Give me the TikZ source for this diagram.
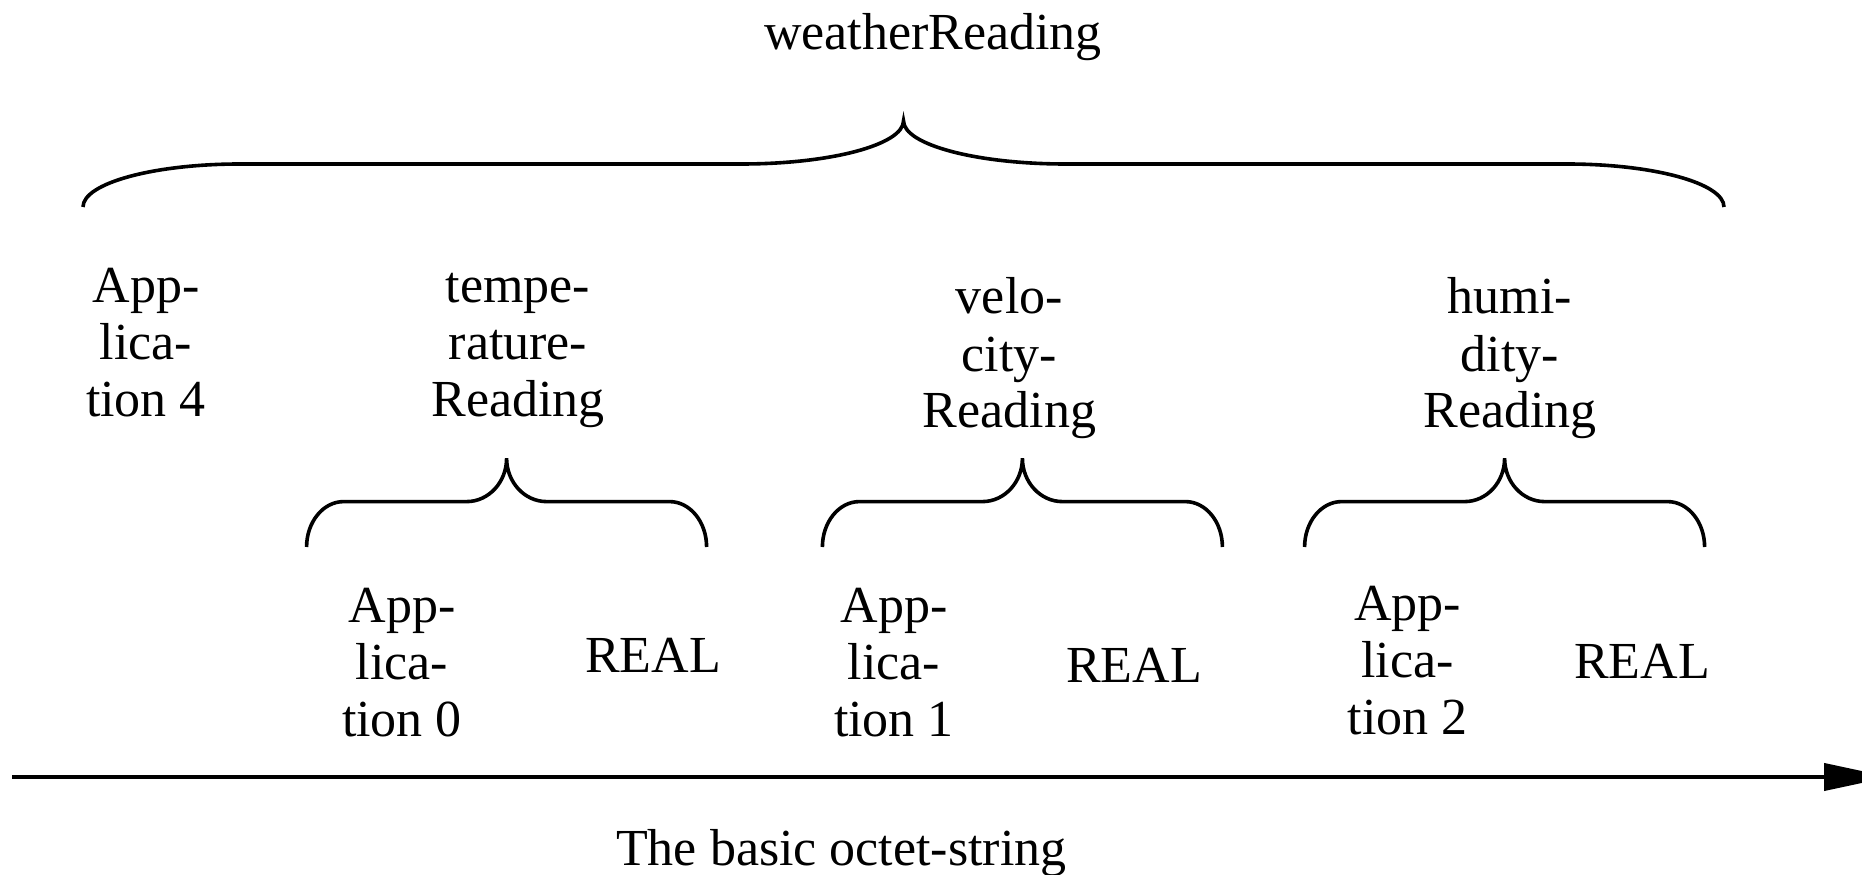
\documentclass[tikz,border=0pt]{standalone}
\usepackage{fontspec}
\setmainfont{Liberation Serif}
\usetikzlibrary{arrows.meta}
\tikzset{
  bracestyle/.style={line width=1.8pt, line cap=butt},
  lbl/.style={inner sep=0pt, align=center, anchor=base, font=\fontsize{26}{28.5}\selectfont},
  axis/.style={line width=2pt, -{Triangle[length=33pt,width=13.5pt]}}
}
\newcommand{\curlybrace}[7]{%
  \pgfmathsetmacro{\bxm}{(#1+#2)/2}%
  \draw[bracestyle] (#1,#3)
    .. controls (#1,{#3+0.552*(#4-#3)}) and ({#1+0.448*#6},#4) .. ({#1+#6},#4)
    -- ({\bxm-#7},#4)
    .. controls ({\bxm-0.448*#7},#4) and (\bxm,{#5-0.552*(#5-#4)}) .. (\bxm,#5)
    .. controls (\bxm,{#5-0.552*(#5-#4)}) and ({\bxm+0.448*#7},#4) .. ({\bxm+#7},#4)
    -- ({#2-#6},#4)
    .. controls ({#2-0.448*#6},#4) and (#2,{#3+0.552*(#4-#3)}) .. (#2,#3);
}
\begin{document}
\begin{tikzpicture}[x=1pt,y=1pt]
\useasboundingbox (0,0) rectangle (931,437);
% top label
\node[lbl] (weather) at (466.5,412) {weatherReading};
% big brace
\curlybrace{41.5}{862}{333.5}{355}{376.6}{78.5}{81}
% second level labels (anchor = baseline of last line)
\node[lbl] (app4) at (73,229) {App-\\lica-\\tion 4};
\node[lbl] (temp) at (259,229) {tempe-\\rature-\\Reading};
\node[lbl] (velo) at (504.7,223) {velo-\\city-\\Reading};
\node[lbl] (humi) at (755,223) {humi-\\dity-\\Reading};
% small braces
\curlybrace{153.3}{353.3}{163.5}{186.2}{207.9}{18.5}{20}
\curlybrace{411.2}{611.2}{163.5}{186.2}{207.9}{18.5}{20}
\curlybrace{652.3}{852.3}{163.5}{186.2}{207.9}{18.5}{20}
% bottom labels
\node[lbl] (app0) at (201,69) {App-\\lica-\\tion 0};
\node[lbl] (real0) at (326.5,101) {REAL};
\node[lbl] (app1) at (447,69) {App-\\lica-\\tion 1};
\node[lbl] (real1) at (567,96) {REAL};
\node[lbl] (app2) at (703.8,70) {App-\\lica-\\tion 2};
\node[lbl] (real2) at (821,98) {REAL};
% axis (tip runs past the right edge, as in the reference)
\coordinate (axstart) at (6,48.5);
\coordinate (axend) at (945,48.5);
\draw[axis] (axstart) -- (axend);
\node[lbl] (octet) at (420.7,4.5) {The basic octet-string};
\end{tikzpicture}
\end{document}
